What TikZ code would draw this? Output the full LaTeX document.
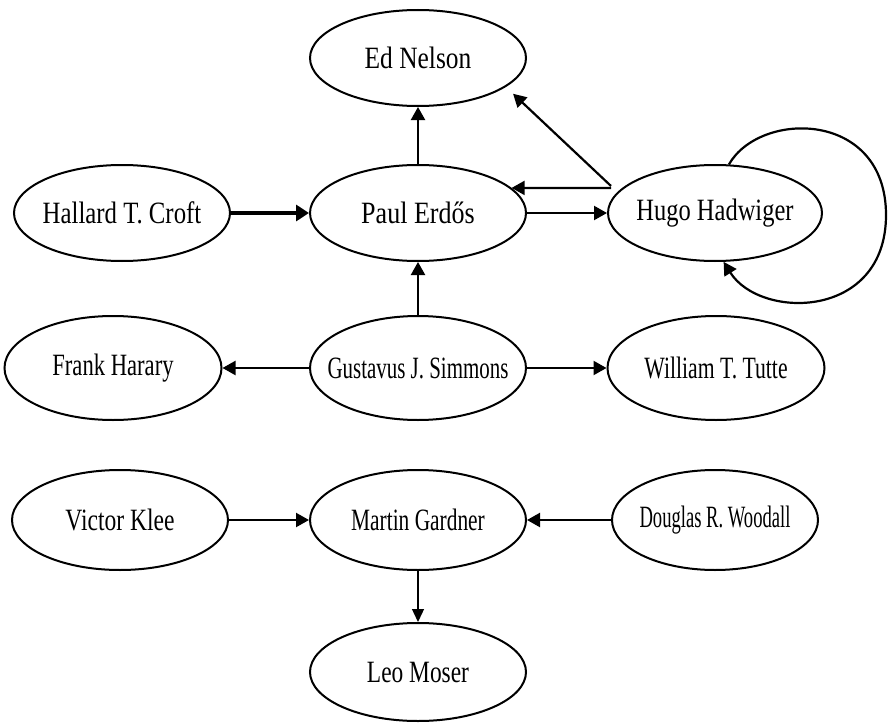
\documentclass[tikz,border=0pt]{standalone}
\usepackage{fontspec}
\usepackage{graphicx}
\setmainfont{Liberation Serif}
\usetikzlibrary{shapes.geometric,arrows.meta}
\begin{document}
\begin{tikzpicture}[x=1pt,y=-1pt,
  pnode/.style={ellipse,draw,line width=2pt,minimum width=216pt,minimum height=96pt,inner sep=0pt},
  lbl/.style={font=\fontsize{31}{36}\selectfont,inner sep=0pt},
  arr/.style={line width=2.2pt,-{Triangle[length=13pt,width=14pt]}},
  thickarr/.style={line width=4.5pt,-{Triangle[length=13pt,width=16pt]}},
  thinarr/.style={line width=1.3pt,-{Triangle[length=13pt,width=12pt]}}]
\useasboundingbox (0,0) rectangle (889,725);
% nodes
\node[pnode,label={[lbl]center:\scalebox{0.82}[1]{Ed Nelson}}] (ed) at (418,58) {};
\node[pnode,label={[lbl]center:\scalebox{0.80}[1]{Hallard T.\ Croft}}] (croft) at (122,213) {};
\node[pnode,label={[lbl]center:\scalebox{0.84}[1]{Paul Erd\H{o}s}}] (paul) at (418,213) {};
\node[pnode,minimum width=214pt,label={[lbl]center:\scalebox{0.79}[1]{Hugo Hadwiger}}] (hugo) at (715,213) {};
\node[pnode,minimum width=217pt,minimum height=104pt,label={[lbl]center:\scalebox{0.73}[1]{Frank Harary}}] (frank) at (113,368) {};
\node[pnode,minimum height=104pt,label={[lbl]center:\scalebox{0.675}[1]{Gustavus J.\ Simmons}}] (gus) at (418,368) {};
\node[pnode,minimum width=217pt,minimum height=104pt,label={[lbl]center:\scalebox{0.70}[1]{William T.\ Tutte}}] (tutte) at (716,368) {};
\node[pnode,minimum height=100pt,label={[lbl]center:\scalebox{0.76}[1]{Victor Klee}}] (klee) at (120,520) {};
\node[pnode,minimum height=100pt,label={[lbl]center:\scalebox{0.69}[1]{Martin Gardner}}] (gardner) at (418,520) {};
\node[pnode,minimum width=206pt,minimum height=100pt,label={[lbl]center:\scalebox{0.60}[1]{Douglas R.\ Woodall}}] (woodall) at (715,520) {};
\node[pnode,minimum height=98pt,label={[lbl]center:\scalebox{0.755}[1]{Leo Moser}}] (moser) at (418,672) {};
% edges
\draw[arr] (paul) -- (ed);
\draw[arr] ([shift={(4,-27)}]hugo.west) -- ([shift={(14,3)}]ed.-22);
\draw[arr] ([shift={(4,-25)}]hugo.west) -- (paul.15);
\draw[arr] (paul) -- (hugo);
\draw[thickarr] (croft) -- (paul);
\draw[arr] (hugo.74) .. controls (760,110) and (886,110) .. (886,215)
                     .. controls (886,320) and (760,320) .. (hugo.-80);
\draw[arr] (gus) -- (paul);
\draw[arr] (gus) -- (frank);
\draw[arr] (gus) -- (tutte);
\draw[arr] (klee) -- (gardner);
\draw[arr] (woodall) -- (gardner);
\draw[thinarr] (gardner) -- (moser);
\end{tikzpicture}
\end{document}
